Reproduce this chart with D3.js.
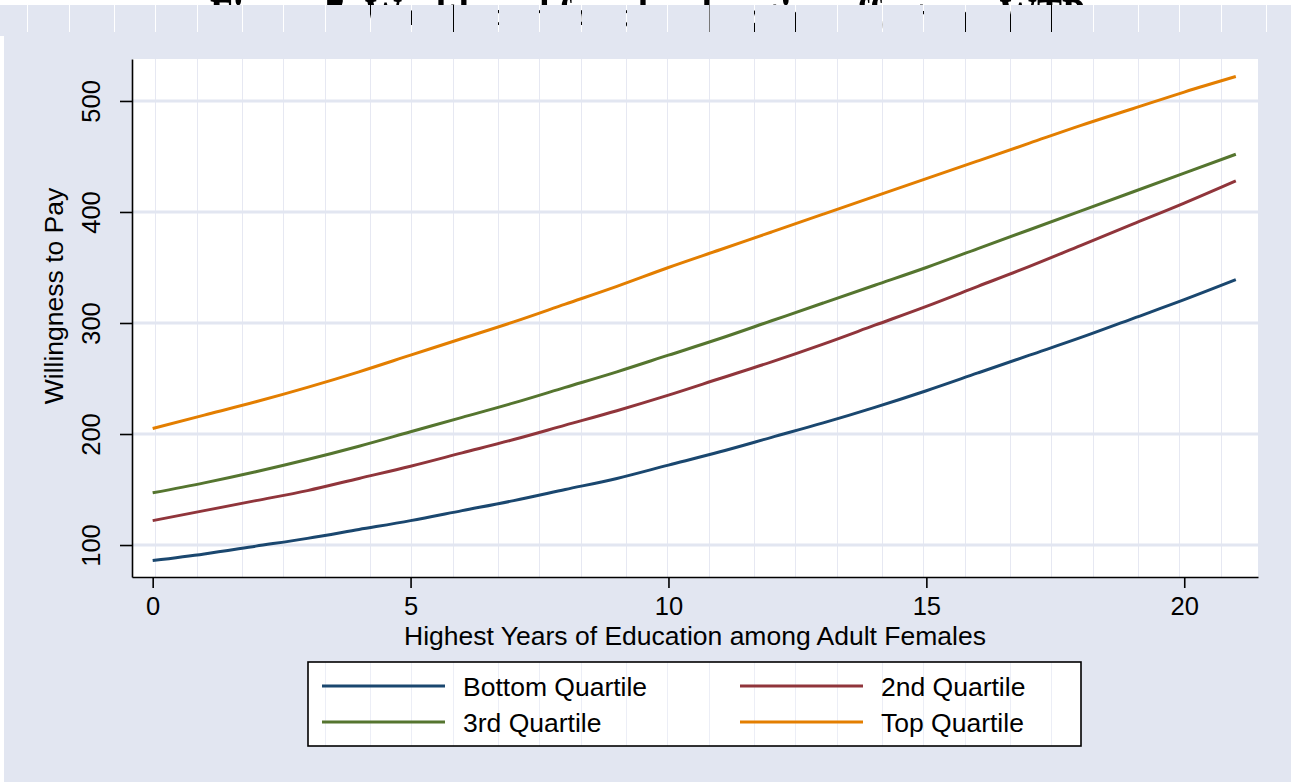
<!DOCTYPE html>
<html>
<head>
<meta charset="utf-8">
<script src="https://cdn.jsdelivr.net/npm/d3@7"></script>
<style>
  body { margin: 0; background: #fff; }
  svg { display: block; font-family: "Liberation Sans", Arial, sans-serif; }
</style>
</head>
<body>
<div id="chart"></div>
<script>
'use strict';

// data
var years = [0, 1, 2, 3, 4, 5, 6, 7, 8, 9, 10, 11, 12, 13, 14, 15, 16, 17, 18, 19, 20, 21];
var bottomQuartile = [86, 92, 99, 106, 114, 122, 131, 140, 150, 160, 172, 184, 197, 210, 224, 239, 255, 271, 287, 304, 321, 339];
var secondQuartile = [122, 131, 140, 149, 160, 171, 183, 195, 208, 221, 235, 250, 265, 281, 298, 315, 333, 351, 370, 389, 408, 428];
var thirdQuartile = [147, 156, 166, 177, 189, 202, 215, 228, 242, 256, 271, 286, 302, 318, 334, 350, 367, 384, 401, 418, 435, 452];
var topQuartile = [205, 217, 229, 242, 256, 271, 286, 301, 317, 333, 350, 366, 382, 398, 414, 430, 446, 462, 478, 493, 508, 522];
var seriesNames = ['Bottom Quartile', '2nd Quartile', '3rd Quartile', 'Top Quartile'];
var xTicks = [0, 5, 10, 15, 20];
var yTicks = [100, 200, 300, 400, 500];

var W = 1291, H = 782;
var BG = '#e2e6f1';
var plot = { left: 132, right: 1258, top: 59, bottom: 577 };
var colors = ['#1a476f', '#90353b', '#55752f', '#e37e00'];
var allSeries = [bottomQuartile, secondQuartile, thirdQuartile, topQuartile];

var svg = d3.select('#chart').append('svg')
    .attr('width', W)
    .attr('height', H);

var defs = svg.append('defs');

// the rasterised page shows thin seams every few pixels
var seams = [];
for (var k = 0; k * 128 < W; k++) {
  [27, 68.5, 114].forEach(function(o) { if (o + k * 128 < W) seams.push(o + k * 128); });
}

var mask = defs.append('mask').attr('id', 'band-mask');
mask.append('rect').attr('width', W).attr('height', H).attr('fill', '#fff');
mask.selectAll('rect.seam').data(seams).enter().append('rect')
    .attr('class', 'seam')
    .attr('x', function(d) { return Math.round(d); })
    .attr('y', 5).attr('width', 1).attr('height', 27)
    .attr('fill', '#000');

defs.append('clipPath').attr('id', 'plot-clip').append('rect')
    .attr('x', plot.left).attr('y', plot.top)
    .attr('width', plot.right - plot.left).attr('height', plot.bottom - plot.top);

// title, mostly hidden behind the graph region
svg.append('text')
    .attr('x', 210).attr('y', 39)
    .attr('textLength', 875)
    .attr('lengthAdjust', 'spacingAndGlyphs')
    .style('font-family', '"Liberation Serif", "Times New Roman", serif')
    .style('font-weight', 'bold')
    .style('font-size', '62px')
    .attr('fill', '#000')
    .text('Figure 7: Wealth and female education effects on WTP');

svg.append('rect')
    .attr('x', 0).attr('y', 5).attr('width', W).attr('height', H - 5)
    .attr('fill', BG)
    .attr('mask', 'url(#band-mask)');
svg.append('rect')
    .attr('x', 0).attr('y', 36).attr('width', 4).attr('height', H - 36)
    .attr('fill', '#fff');

// plot region
svg.append('rect')
    .attr('x', plot.left).attr('y', plot.top)
    .attr('width', plot.right - plot.left).attr('height', plot.bottom - plot.top)
    .attr('fill', '#fff');

var x = d3.scaleLinear().domain([-0.401, 21.43]).range([plot.left, plot.right]);
var y = d3.scaleLinear().domain([71.2, 537.8]).range([plot.bottom, plot.top]);

var g = svg.append('g').attr('clip-path', 'url(#plot-clip)');

g.selectAll('line.seam').data(seams).enter().append('line')
    .attr('class', 'seam')
    .attr('x1', function(d) { return Math.round(d) + 0.5; })
    .attr('x2', function(d) { return Math.round(d) + 0.5; })
    .attr('y1', plot.top).attr('y2', plot.bottom)
    .attr('stroke', '#e6e8f2').attr('stroke-width', 1);

g.selectAll('line.grid').data(yTicks).enter().append('line')
    .attr('class', 'grid')
    .attr('x1', plot.left).attr('x2', plot.right)
    .attr('y1', function(d) { return y(d); })
    .attr('y2', function(d) { return y(d); })
    .attr('stroke', BG).attr('stroke-width', 3);

var line = d3.line()
    .curve(d3.curveMonotoneX)
    .x(function(d, i) { return x(years[i]); })
    .y(function(d) { return y(d); });

g.selectAll('path.series').data(allSeries).enter().append('path')
    .attr('class', 'series')
    .attr('d', line)
    .attr('fill', 'none')
    .attr('stroke', function(d, i) { return colors[i]; })
    .attr('stroke-width', 3);

// axes
var yAxis = d3.axisLeft(y).tickValues(yTicks).tickSize(12).tickSizeOuter(0);
var gy = svg.append('g')
    .attr('transform', 'translate(' + plot.left + ',0)')
    .call(yAxis);
gy.select('.domain').attr('stroke-width', 1.6);
gy.selectAll('.tick line').attr('stroke-width', 1.6);
gy.selectAll('.tick text')
    .attr('x', null).attr('dy', null)
    .attr('transform', 'translate(-32,0) rotate(-90)')
    .attr('text-anchor', 'middle')
    .attr('fill', '#000')
    .style('font-size', '25.5px')
    .style('font-family', '"Liberation Sans", Arial, sans-serif');

var xAxis = d3.axisBottom(x).tickValues(xTicks).tickSize(11).tickSizeOuter(0);
var gx = svg.append('g')
    .attr('transform', 'translate(0,' + plot.bottom + ')')
    .call(xAxis);
gx.select('.domain').attr('stroke-width', 1.6);
gx.selectAll('.tick line').attr('stroke-width', 1.6);
gx.selectAll('.tick text')
    .attr('y', 38).attr('dy', null)
    .attr('fill', '#000')
    .style('font-size', '25.5px')
    .style('font-family', '"Liberation Sans", Arial, sans-serif');

svg.append('text')
    .attr('transform', 'translate(63,' + 296 + ') rotate(-90)')
    .attr('text-anchor', 'middle')
    .style('font-size', '26.5px')
    .text('Willingness to Pay');

svg.append('text')
    .attr('x', (plot.left + plot.right) / 2).attr('y', 645)
    .attr('text-anchor', 'middle')
    .style('font-size', '26.5px')
    .text('Highest Years of Education among Adult Females');

// legend
var legend = { left: 308, top: 662, width: 773, height: 84 };
defs.append('clipPath').attr('id', 'legend-clip').append('rect')
    .attr('x', legend.left).attr('y', legend.top)
    .attr('width', legend.width).attr('height', legend.height);

svg.append('rect')
    .attr('x', legend.left).attr('y', legend.top)
    .attr('width', legend.width).attr('height', legend.height)
    .attr('fill', '#fff');
svg.append('g').attr('clip-path', 'url(#legend-clip)')
  .selectAll('line').data(seams).enter().append('line')
    .attr('x1', function(d) { return Math.round(d) + 0.5; })
    .attr('x2', function(d) { return Math.round(d) + 0.5; })
    .attr('y1', legend.top).attr('y2', legend.top + legend.height)
    .attr('stroke', '#eceef6').attr('stroke-width', 1);
svg.append('rect')
    .attr('x', legend.left).attr('y', legend.top)
    .attr('width', legend.width).attr('height', legend.height)
    .attr('fill', 'none').attr('stroke', '#000').attr('stroke-width', 1.6);

var item = svg.selectAll('g.item').data(seriesNames).enter().append('g')
    .attr('class', 'item')
    .attr('transform', function(d, i) {
      return 'translate(' + (i % 2 === 0 ? 322 : 740) + ',' + (i < 2 ? 686 : 722) + ')';
    });
item.append('line')
    .attr('x1', 0).attr('x2', 123)
    .attr('stroke', function(d, i) { return colors[i]; })
    .attr('stroke-width', 3);
item.append('text')
    .attr('x', 141).attr('y', 9.5)
    .style('font-size', '26.5px')
    .text(function(d) { return d; });
</script>
</body>
</html>
